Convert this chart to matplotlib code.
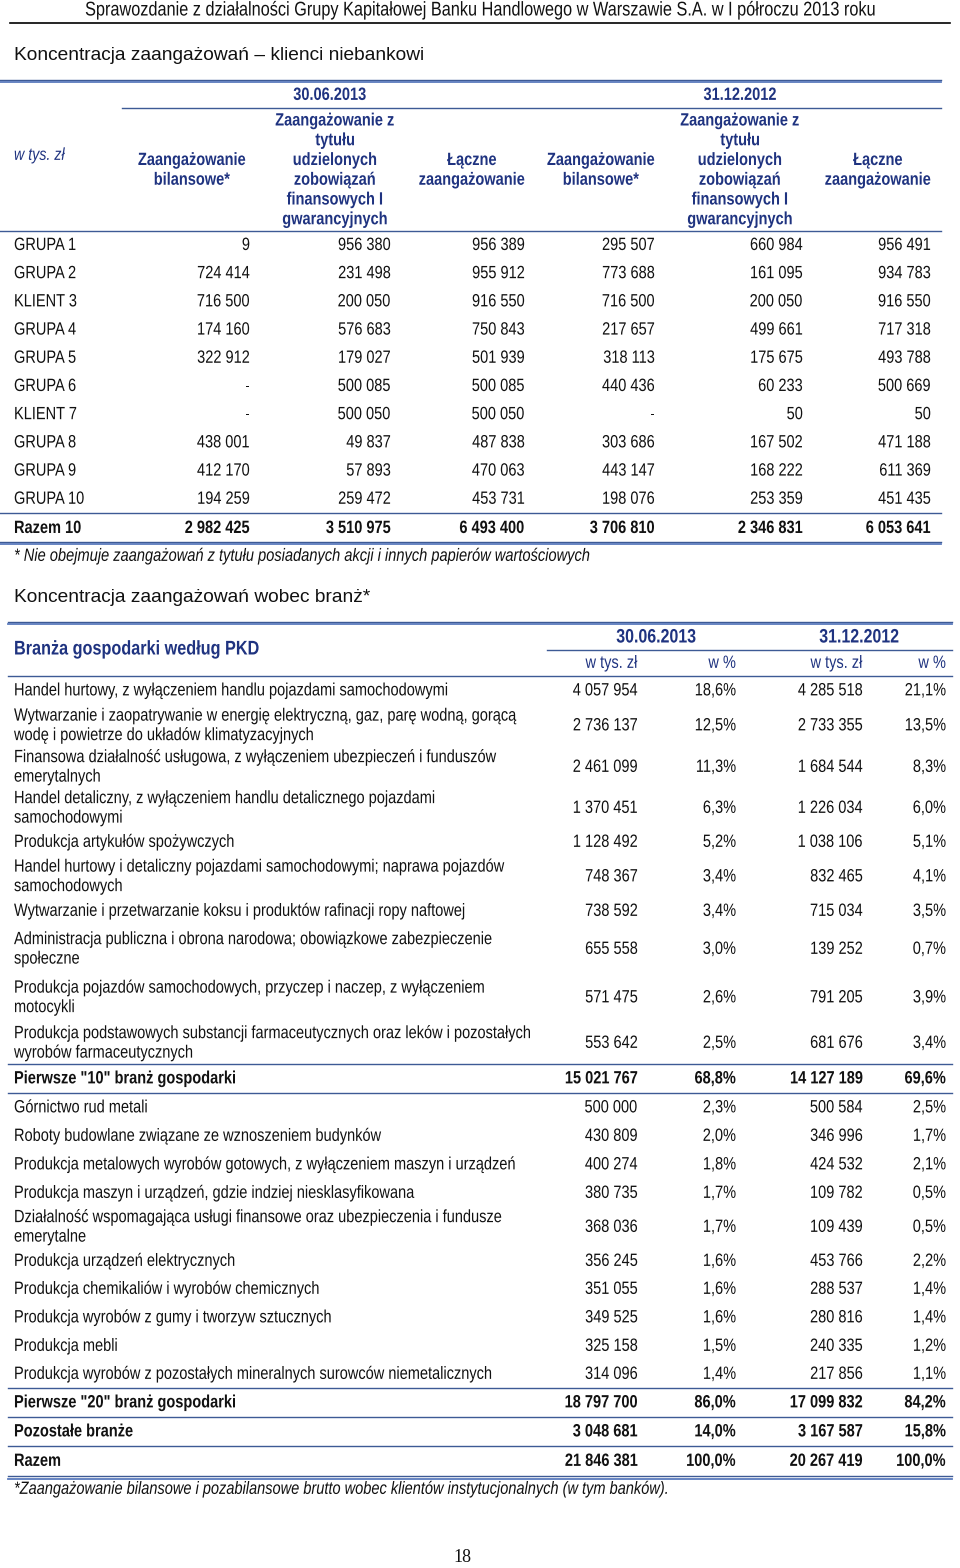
import matplotlib.pyplot as plt
from matplotlib.patheffects import AbstractPathEffect
from matplotlib.transforms import Affine2D

FONT = ['Liberation Sans', 'DejaVu Sans']
BLUE_TXT = '#1f3380'
BLUE_LN = '#3d5a95'
INK = '#111111'
SQUEEZE = 0.82

# --- tabela 1: klienci niebankowi ---
t1_labels = ['GRUPA 1', 'GRUPA 2', 'KLIENT 3', 'GRUPA 4', 'GRUPA 5', 'GRUPA 6',
             'KLIENT 7', 'GRUPA 8', 'GRUPA 9', 'GRUPA 10', 'Razem 10']
t1_bil_2013 = [9, 724414, 716500, 174160, 322912, None, None, 438001, 412170, 194259, 2982425]
t1_zob_2013 = [956380, 231498, 200050, 576683, 179027, 500085, 500050, 49837, 57893, 259472, 3510975]
t1_tot_2013 = [956389, 955912, 916550, 750843, 501939, 500085, 500050, 487838, 470063, 453731, 6493400]
t1_bil_2012 = [295507, 773688, 716500, 217657, 318113, 440436, None, 303686, 443147, 198076, 3706810]
t1_zob_2012 = [660984, 161095, 200050, 499661, 175675, 60233, 50, 167502, 168222, 253359, 2346831]
t1_tot_2012 = [956491, 934783, 916550, 717318, 493788, 500669, 50, 471188, 611369, 451435, 6053641]
t1_headers = ['Zaangażowanie\nbilansowe*',
              'Zaangażowanie z\ntytułu\nudzielonych\nzobowiązań\nfinansowych I\ngwarancyjnych',
              'Łączne\nzaangażowanie'] * 2
t1_dates = ['30.06.2013', '31.12.2012']

# --- tabela 2: branże ---
t2_labels = [
    'Handel hurtowy, z wyłączeniem handlu pojazdami samochodowymi',
    'Wytwarzanie i zaopatrywanie w energię elektryczną, gaz, parę wodną, gorącą\nwodę i powietrze do układów klimatyzacyjnych',
    'Finansowa działalność usługowa, z wyłączeniem ubezpieczeń i funduszów\nemerytalnych',
    'Handel detaliczny, z wyłączeniem handlu detalicznego pojazdami\nsamochodowymi',
    'Produkcja artykułów spożywczych',
    'Handel hurtowy i detaliczny pojazdami samochodowymi; naprawa pojazdów\nsamochodowych',
    'Wytwarzanie i przetwarzanie koksu i produktów rafinacji ropy naftowej',
    'Administracja publiczna i obrona narodowa; obowiązkowe zabezpieczenie\nspołeczne',
    'Produkcja pojazdów samochodowych, przyczep i naczep, z wyłączeniem\nmotocykli',
    'Produkcja podstawowych substancji farmaceutycznych oraz leków i pozostałych\nwyrobów farmaceutycznych',
    'Pierwsze "10" branż gospodarki',
    'Górnictwo rud metali',
    'Roboty budowlane związane ze wznoszeniem budynków',
    'Produkcja metalowych wyrobów gotowych, z wyłączeniem maszyn i urządzeń',
    'Produkcja maszyn i urządzeń, gdzie indziej niesklasyfikowana',
    'Działalność wspomagająca usługi finansowe oraz ubezpieczenia i fundusze\nemerytalne',
    'Produkcja urządzeń elektrycznych',
    'Produkcja chemikaliów i wyrobów chemicznych',
    'Produkcja wyrobów z gumy i tworzyw sztucznych',
    'Produkcja mebli',
    'Produkcja wyrobów z pozostałych mineralnych surowców niemetalicznych',
    'Pierwsze "20" branż gospodarki',
    'Pozostałe branże',
    'Razem',
]
t2_kw_2013 = [4057954, 2736137, 2461099, 1370451, 1128492, 748367, 738592, 655558, 571475, 553642,
              15021767, 500000, 430809, 400274, 380735, 368036, 356245, 351055, 349525, 325158,
              314096, 18797700, 3048681, 21846381]
t2_pr_2013 = [18.6, 12.5, 11.3, 6.3, 5.2, 3.4, 3.4, 3.0, 2.6, 2.5, 68.8, 2.3, 2.0, 1.8, 1.7, 1.7,
              1.6, 1.6, 1.6, 1.5, 1.4, 86.0, 14.0, 100.0]
t2_kw_2012 = [4285518, 2733355, 1684544, 1226034, 1038106, 832465, 715034, 139252, 791205, 681676,
              14127189, 500584, 346996, 424532, 109782, 109439, 453766, 288537, 280816, 240335,
              217856, 17099832, 3167587, 20267419]
t2_pr_2012 = [21.1, 13.5, 8.3, 6.0, 5.1, 4.1, 3.5, 0.7, 3.9, 3.4, 69.6, 2.5, 1.7, 2.1, 0.5, 0.5,
              2.2, 1.4, 1.4, 1.2, 1.1, 84.2, 15.8, 100.0]
t2_bold = {10, 21, 22, 23}


class Tall(AbstractPathEffect):
    # mniejsza czcionka rozciagnieta w pionie = tekst waski (jak Arial Narrow)
    def __init__(self, y0, sy):
        super().__init__()
        self.y0 = y0
        self.sy = sy

    def draw_path(self, renderer, gc, tpath, affine, rgbFace=None):
        stretch = Affine2D().translate(0, -self.y0).scale(1, self.sy).translate(0, self.y0)
        renderer.draw_path(gc, tpath, affine + stretch, rgbFace)


def fmt_num(v):
    if v is None:
        return '-'
    return f'{v:,}'.replace(',', ' ')


def fmt_pct(p):
    return f'{p:.1f}%'.replace('.', ',')


fig = plt.figure(figsize=(9.6, 15.68), dpi=100)
ax = fig.add_axes([0, 0, 1, 1])
ax.set_xlim(0, 960)
ax.set_ylim(1568, 0)
ax.axis('off')


def txt(x, y, s, ha='left', size=12.8, narrow=True, **kw):
    kw.setdefault('color', INK)
    kw.setdefault('family', FONT)
    if not narrow:
        return ax.text(x, y, s, ha=ha, va='center', fontsize=size, **kw)
    t = ax.text(x, y, s, ha=ha, va='center', fontsize=size * SQUEEZE, **kw)
    y0 = ax.transData.transform((x, y))[1]
    t.set_path_effects([Tall(y0, 1 / SQUEEZE)])
    return t


def hline(y, x0, x1, double=False, lw=1.0):
    ax.plot([x0, x1], [y, y], color=BLUE_LN, lw=lw)
    if double:
        ax.plot([x0, x1], [y + 2.6, y + 2.6], color='#5b7bbd', lw=lw + 0.3)


# naglowek strony
txt(480, 10, 'Sprawozdanie z działalności Grupy Kapitałowej Banku Handlowego w Warszawie S.A. w I półroczu 2013 roku',
    ha='center', size=14.3)
ax.plot([10, 950], [22.5, 22.5], color='black', lw=1.2)

txt(14, 55, 'Koncentracja zaangażowań – klienci niebankowi', size=13.8, narrow=False)

# ---- tabela 1 ----
hline(79.5, 0, 941, double=True)
for x, d in zip([330, 740], t1_dates):
    txt(x, 95, d, ha='center', size=12.8, weight='bold', color=BLUE_TXT)
hline(107.5, 122, 941)
txt(14, 155, 'w tys. zł', size=12.5, style='italic', color=BLUE_TXT)
hdr_x = [192, 335, 472, 601, 740, 878]
for x, h in zip(hdr_x, t1_headers):
    txt(x, 170, h, ha='center', size=12.8, weight='bold', color=BLUE_TXT, linespacing=1.2)
hline(231, 0, 941)

t1_cols = [t1_bil_2013, t1_zob_2013, t1_tot_2013, t1_bil_2012, t1_zob_2012, t1_tot_2012]
val_x = [250, 391, 525, 655, 803, 931]
row_h = 28.2
y_top = 231
for i, lab in enumerate(t1_labels):
    bold = lab.startswith('Razem')
    yc = y_top + row_h * (i + 0.5) + (1 if bold else 0)
    if bold:
        hline(y_top + row_h * i, 0, 941)
    w = 'bold' if bold else 'normal'
    txt(14, yc, lab, weight=w)
    for x, col in zip(val_x, t1_cols):
        txt(x, yc, fmt_num(col[i]), ha='right', weight=w)
hline(y_top + row_h * len(t1_labels) + 0.5, 0, 941, double=True)
txt(14, 556, '* Nie obejmuje zaangażowań z tytułu posiadanych akcji i innych papierów wartościowych',
    size=12.85, style='italic')

txt(14, 597, 'Koncentracja zaangażowań wobec branż*', size=13.8, narrow=False)

# ---- tabela 2 ----
hline(621.5, 8, 952, double=True)
txt(14, 649, 'Branża gospodarki według PKD', size=14.25, weight='bold', color=BLUE_TXT)
for x, d in zip([656, 859], t1_dates):
    txt(x, 637, d, ha='center', size=14, weight='bold', color=BLUE_TXT)
hline(650, 547, 952)
sub_x = [638, 736, 863, 946]
for x, s in zip(sub_x, ['w tys. zł', 'w %', 'w tys. zł', 'w %']):
    txt(x, 663, s, ha='right', color=BLUE_TXT)
hline(676, 8, 952)

t2_row_h = [29, 41, 42, 40, 28, 41, 28, 48, 49, 42, 29, 29, 28, 29, 28, 40, 28, 28, 29, 28, 28,
            29, 29, 30]
t2_cols = [(t2_kw_2013, fmt_num), (t2_pr_2013, fmt_pct), (t2_kw_2012, fmt_num), (t2_pr_2012, fmt_pct)]
y = 676
for i, lab in enumerate(t2_labels):
    h = t2_row_h[i]
    bold = i in t2_bold
    if bold:
        hline(y, 8, 952)
    yc = y + h / 2
    w = 'bold' if bold else 'normal'
    txt(14, yc, lab, weight=w, linespacing=1.18)
    for x, (col, f) in zip(sub_x, t2_cols):
        txt(x, yc, f(col[i]), ha='right', weight=w)
    y += h
    if i == 10:
        hline(y, 8, 952)
hline(y, 8, 952, double=True)
txt(14, 1489, '*Zaangażowanie bilansowe i pozabilansowe brutto wobec klientów instytucjonalnych (w tym banków).',
    size=12.8, style='italic')

txt(462, 1557, '18', ha='center', size=13, narrow=False, family=['Liberation Serif', 'DejaVu Serif'])

fig.savefig('out.png', dpi=100)
